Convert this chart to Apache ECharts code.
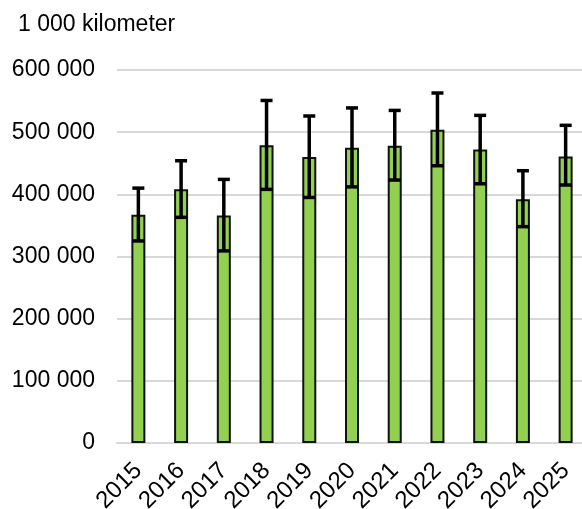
<!DOCTYPE html>
<html><head><meta charset="utf-8">
<script src="https://cdn.jsdelivr.net/npm/echarts@6/dist/echarts.min.js"></script>
<style>html,body{margin:0;padding:0;background:#fff}#c{width:582px;height:509px}</style>
</head><body><div id="c"></div>
<script>
const years = ['2015','2016','2017','2018','2019','2020','2021','2022','2023','2024','2025'];
const values = [367000, 408000, 366000, 479000, 460000, 475000, 478000, 504000, 472000, 392000, 461000];
const lower  = [325000, 363000, 309000, 408000, 395000, 412000, 423000, 446000, 417000, 348000, 415000];
const upper  = [410000, 454000, 424000, 551000, 526000, 539000, 535000, 563000, 527000, 438000, 511000];
const yTicks = [0, 100000, 200000, 300000, 400000, 500000, 600000];
const unitLabel = '1 000 kilometer';

const fmt = v => String(v).replace(/\B(?=(\d{3})+(?!\d))/g, ' ');
const font = 'Liberation Sans, Arial, sans-serif';
const errData = years.map((y, i) => [i, lower[i], upper[i]]);

const chart = echarts.init(document.getElementById('c'));
chart.setOption({
  animation: false,
  title: { text: unitLabel, left: 13, top: 8,
    textStyle: { fontFamily: font, fontSize: 23, fontWeight: 'normal', color: '#000' } },
  grid: { left: 117, right: -5, top: 70, bottom: 66, containLabel: false, outerBoundsMode: 'none' },
  xAxis: {
    type: 'category', data: years,
    axisLine: { lineStyle: { color: '#d9d9d9', width: 2 } },
    axisTick: { show: false },
    axisLabel: { interval: 0, rotate: 45, fontFamily: font, fontSize: 24, color: '#000', margin: 24 }
  },
  yAxis: {
    type: 'value', min: yTicks[0], max: yTicks[yTicks.length - 1], interval: 100000,
    axisLine: { show: false }, axisTick: { show: false },
    splitLine: { lineStyle: { color: '#d9d9d9', width: 2 } },
    axisLabel: { fontFamily: font, fontSize: 23, color: '#000', margin: 22, formatter: fmt }
  },
  series: [
    { type: 'bar', data: values, barWidth: 14,
      itemStyle: { color: '#92D050', borderColor: '#111', borderWidth: 2 } },
    { type: 'custom', data: errData, z: 10,
      renderItem: (params, api) => {
        const x = api.value(0);
        const lo = api.coord([x, api.value(1)]);
        const hi = api.coord([x, api.value(2)]);
        const hw = 6;
        const st = { stroke: '#000', lineWidth: 3.5 };
        return { type: 'group', children: [
          { type: 'line', shape: { x1: lo[0], y1: lo[1], x2: hi[0], y2: hi[1] }, style: st },
          { type: 'line', shape: { x1: hi[0] - hw, y1: hi[1], x2: hi[0] + hw, y2: hi[1] }, style: st },
          { type: 'line', shape: { x1: lo[0] - hw, y1: lo[1], x2: lo[0] + hw, y2: lo[1] }, style: st }
        ]};
      }
    }
  ]
});
</script></body></html>
